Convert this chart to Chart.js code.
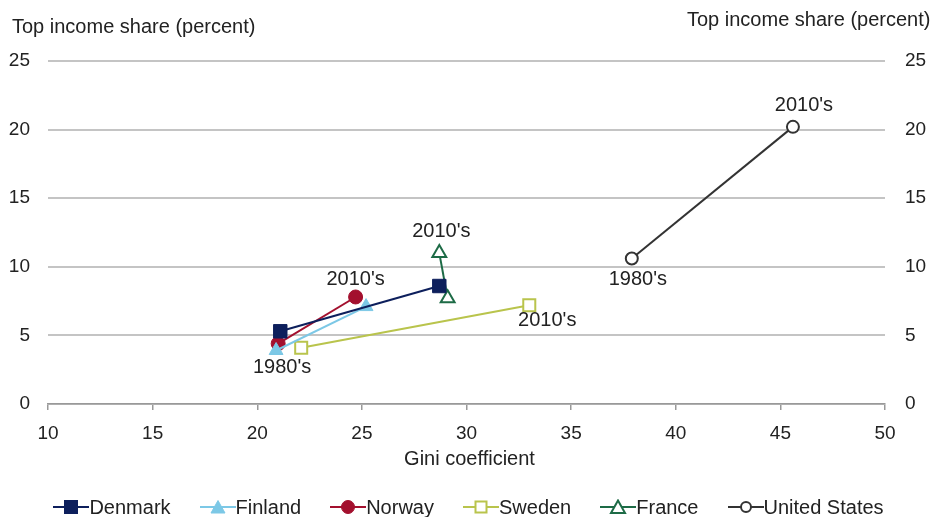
<!DOCTYPE html>
<html>
<head>
<meta charset="utf-8">
<script src="https://cdn.jsdelivr.net/npm/chart.js@4.4.1/dist/chart.umd.min.js"></script>
<style>
  html, body { margin: 0; padding: 0; background: #fff; }
  #wrap { position: relative; width: 937px; height: 517px; overflow: hidden; }
  #chart { position: absolute; left: 0; top: 0; }
  #legend {
    position: absolute; left: 0; top: 495px; width: 937px; height: 24px;
    display: flex; justify-content: center; align-items: center; gap: 29px;
    font: 20px "Liberation Sans", Arial, sans-serif; color: #222;
  }
  #legend .item { display: flex; align-items: center; white-space: nowrap; }
  #legend svg { display: block; margin-right: 0; }
</style>
</head>
<body>
<div id="wrap">
  <canvas id="chart" width="937" height="517"></canvas>
  <div id="legend"></div>
</div>
<script>
(function () {
  "use strict";

  // Gini coefficient (x) and top income share in percent (y), 1980's then 2010's
  const countries = ["Denmark", "Finland", "Norway", "Sweden", "France", "United States"];
  const decades = ["1980's", "2010's"];

  const denmarkGini = [21.1, 28.7];
  const denmarkTop = [5.3, 8.6];
  const finlandGini = [20.9, 25.2];
  const finlandTop = [3.9, 7.1];
  const norwayGini = [21.0, 24.7];
  const norwayTop = [4.4, 7.8];
  const swedenGini = [22.1, 33.0];
  const swedenTop = [4.1, 7.2];
  const franceGini = [29.1, 28.7];
  const franceTop = [7.7, 11.0];
  const usGini = [37.9, 45.6];
  const usTop = [10.6, 20.2];

  const xTicks = [10, 15, 20, 25, 30, 35, 40, 45, 50];
  const yTicks = [0, 5, 10, 15, 20, 25];

  // which points get a decade label: [series index, point index]
  const decadeLabels = [
    [1, 0], [2, 1], [4, 1], [3, 1], [5, 0], [5, 1],
  ];

  const FONT = "'Liberation Sans', Arial, sans-serif";
  const TEXT = "#222";

  const styles = [
    { color: "#0d1f5c", shape: "rect", radius: 9.5, fill: true },
    { color: "#7cc8e6", shape: "triangle", radius: 8, fill: true },
    { color: "#a3102e", shape: "circle", radius: 7, fill: true },
    { color: "#b9c44c", shape: "rect", radius: 8.5, fill: false },
    { color: "#1d6b46", shape: "triangle", radius: 8, fill: false },
    { color: "#333333", shape: "circle", radius: 6, fill: false },
  ];

  // label offsets from the point, in pixels
  const labelOffsets = [
    [6, 17], [0, -17], [2, -22], [18, 15], [6, 21], [11, -21],
  ];

  function pairs(xs, ys) {
    return xs.map((x, i) => ({ x: x, y: ys[i] }));
  }

  const seriesData = [
    pairs(denmarkGini, denmarkTop),
    pairs(finlandGini, finlandTop),
    pairs(norwayGini, norwayTop),
    pairs(swedenGini, swedenTop),
    pairs(franceGini, franceTop),
    pairs(usGini, usTop),
  ];

  const datasets = countries.map((name, i) => {
    const s = styles[i];
    return {
      label: name,
      data: seriesData[i],
      showLine: true,
      borderColor: s.color,
      borderWidth: 2,
      pointStyle: s.shape,
      pointRadius: s.radius,
      pointHoverRadius: s.radius,
      pointBackgroundColor: s.fill ? s.color : "#fff",
      pointBorderColor: s.color,
      pointBorderWidth: s.fill ? 1 : 2,
    };
  });

  const decadeLabelPlugin = {
    id: "decadeLabels",
    afterDatasetsDraw(chart) {
      const ctx = chart.ctx;
      ctx.save();
      ctx.font = "20px " + FONT;
      ctx.fillStyle = TEXT;
      ctx.textAlign = "center";
      ctx.textBaseline = "middle";
      decadeLabels.forEach(([si, pi], k) => {
        const pt = chart.getDatasetMeta(si).data[pi];
        if (!pt) return;
        const off = labelOffsets[k];
        ctx.fillText(decades[pi], pt.x + off[0], pt.y + off[1]);
      });
      ctx.restore();
    },
  };

  const axisTitlePlugin = {
    id: "axisTitles",
    afterDraw(chart) {
      const ctx = chart.ctx;
      const area = chart.chartArea;
      ctx.save();
      ctx.font = "20px " + FONT;
      ctx.fillStyle = TEXT;
      ctx.textAlign = "left";
      ctx.textBaseline = "middle";
      ctx.fillText("Top income share (percent)", 12, 27);
      ctx.fillText("Top income share (percent)", 687, 20);
      ctx.textAlign = "center";
      ctx.fillText("Gini coefficient", (area.left + area.right) / 2 + 3, area.bottom + 55);
      ctx.restore();
    },
  };

  const tickFont = { family: FONT, size: 19 };

  new Chart(document.getElementById("chart"), {
    type: "scatter",
    data: { datasets: datasets },
    plugins: [decadeLabelPlugin, axisTitlePlugin],
    options: {
      responsive: false,
      animation: false,
      devicePixelRatio: 1,
      layout: { padding: { top: 61, bottom: 72, left: 0, right: 0 } },
      plugins: { legend: { display: false }, tooltip: { enabled: false } },
      scales: {
        x: {
          type: "linear",
          min: xTicks[0],
          max: xTicks[xTicks.length - 1],
          afterBuildTicks(axis) { axis.ticks = xTicks.map((v) => ({ value: v })); },
          ticks: { font: tickFont, color: TEXT, padding: 12, maxRotation: 0 },
          grid: { drawOnChartArea: false, drawTicks: true, tickLength: 6, color: "#999", lineWidth: 1.5 },
          border: { display: true, color: "#999", width: 1.5 },
          afterFit(axis) { axis.height = 41; },
        },
        y: {
          position: "left",
          min: yTicks[0],
          max: yTicks[yTicks.length - 1],
          afterBuildTicks(axis) { axis.ticks = yTicks.map((v) => ({ value: v })); },
          ticks: { font: tickFont, color: TEXT, padding: 18 },
          grid: { color: "#c4c4c4", lineWidth: 2, drawTicks: false },
          border: { display: false },
          afterFit(axis) { axis.width = 48; },
        },
        y2: {
          position: "right",
          min: yTicks[0],
          max: yTicks[yTicks.length - 1],
          afterBuildTicks(axis) { axis.ticks = yTicks.map((v) => ({ value: v })); },
          ticks: { font: tickFont, color: TEXT, padding: 20 },
          grid: { display: false, drawTicks: false },
          border: { display: false },
          afterFit(axis) { axis.width = 52; },
        },
      },
    },
  });

  // legend: line with the series marker in the middle, then the name
  function markerSvg(s) {
    const c = s.color;
    const fill = s.fill ? c : "#fff";
    let mark;
    if (s.shape === "rect") {
      mark = s.fill
        ? '<rect x="11" y="1" width="14" height="14" fill="' + c + '"/>'
        : '<rect x="12.5" y="2.5" width="11" height="11" fill="#fff" stroke="' + c + '" stroke-width="2"/>';
    } else if (s.shape === "triangle") {
      mark = '<polygon points="18,1.5 25,14 11,14" fill="' + fill + '" stroke="' + c + '" stroke-width="' + (s.fill ? 1 : 2) + '"/>';
    } else {
      mark = '<circle cx="18" cy="8" r="' + (s.fill ? 6.5 : 5) + '" fill="' + fill + '" stroke="' + c + '" stroke-width="' + (s.fill ? 1 : 2) + '"/>';
    }
    return '<svg width="36" height="16" viewBox="0 0 36 16">' +
      '<line x1="0" y1="8" x2="36" y2="8" stroke="' + c + '" stroke-width="2"/>' + mark + '</svg>';
  }

  const legend = document.getElementById("legend");
  countries.forEach((name, i) => {
    const item = document.createElement("div");
    item.className = "item";
    item.innerHTML = markerSvg(styles[i]) + "<span>" + name + "</span>";
    legend.appendChild(item);
  });
})();
</script>
</body>
</html>
